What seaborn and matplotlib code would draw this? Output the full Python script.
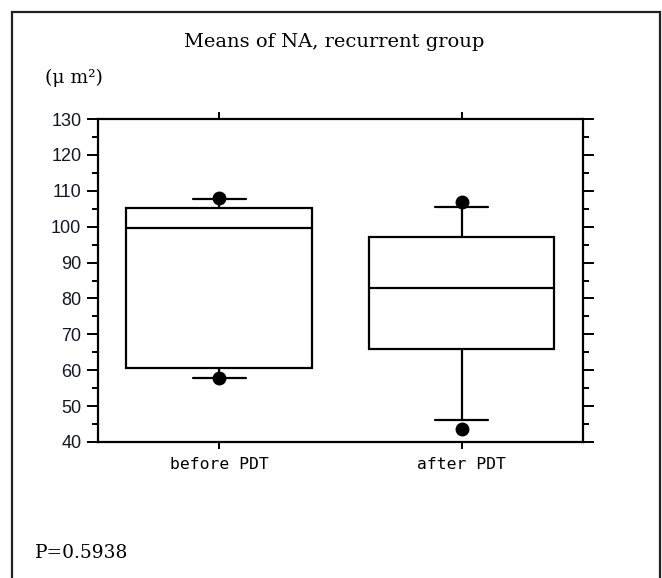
import matplotlib
matplotlib.use("Agg")
import matplotlib.pyplot as plt
import pandas as pd
import seaborn as sns
from matplotlib.patches import Rectangle
from matplotlib.ticker import MultipleLocator

# Box statistics (um^2)
groups = ["before PDT", "after PDT"]
minimums = [57.7, 43.7]
whisker_lo = [57.8, 46.0]
q1 = [60.5, 65.8]
medians = [99.5, 83.0]
q3 = [105.1, 97.0]
whisker_hi = [107.8, 105.5]
maximums = [107.9, 106.9]

# Small sample per group whose 10/25/50/75/90 percentiles equal the stats above
rows = []
for g, mn, wl, a, m, b, wh, mx in zip(groups, minimums, whisker_lo, q1, medians, q3, whisker_hi, maximums):
    for v in [mn, wl, a, a, m, m, m, b, b, wh, mx]:
        rows.append({"group": g, "value": v})
df = pd.DataFrame(rows)

sns.set_style("ticks")
plt.rcParams["text.color"] = "black"

fig = plt.figure(figsize=(6.62, 5.78), dpi=100)
ax = fig.add_axes([0.148, 0.2353, 0.7326, 0.5588])

sns.boxplot(
    data=df, x="group", y="value", order=groups,
    whis=(10, 90), width=0.765, color="white", linecolor="black",
    linewidth=1.6, capwidths=0.22,
    flierprops=dict(marker="o", markerfacecolor="black", markeredgecolor="black", markersize=9),
    ax=ax,
)

ax.set_xlim(-0.5, 1.5)
ax.set_ylim(40, 130)
ax.yaxis.set_major_locator(MultipleLocator(10))
ax.yaxis.set_minor_locator(MultipleLocator(5))
ax.set_xlabel("")
ax.set_ylabel("")

for s in ax.spines.values():
    s.set_visible(True)
    s.set_linewidth(1.6)
    s.set_color("black")

ax.tick_params(axis="y", which="both", direction="out", left=True, right=True,
               labelright=False, width=1.4, color="black")
ax.tick_params(axis="y", which="major", length=8, pad=4)
ax.tick_params(axis="y", which="minor", length=4)
ax.tick_params(axis="x", which="major", direction="out", top=True, bottom=True,
               length=5, width=1.4, color="black", pad=6)

for lbl in ax.get_yticklabels():
    lbl.set_fontfamily("Liberation Sans")
    lbl.set_fontsize(13)
    lbl.set_color("#14142b")
for lbl in ax.get_xticklabels():
    lbl.set_fontfamily("DejaVu Sans Mono")
    lbl.set_fontsize(11.8)
    lbl.set_color("black")

# outer frame
fig.patches.append(Rectangle((12 / 662, -0.02), 648 / 662, 1 - 12 / 578 + 0.02,
                             transform=fig.transFigure, fill=False,
                             edgecolor="#222222", linewidth=1.6))

fig.text(0.505, 0.927, "Means of NA, recurrent group", ha="center", va="center",
         fontsize=14, family="DejaVu Serif", color="black")
fig.text(0.068, 0.866, "(\u03bc m\u00b2)", ha="left", va="center",
         fontsize=13.5, family="DejaVu Serif", color="black")
fig.text(0.053, 0.043, "P=0.5938", ha="left", va="center",
         fontsize=13.4, family="DejaVu Serif", color="black")

fig.savefig("out.png", dpi=100)
